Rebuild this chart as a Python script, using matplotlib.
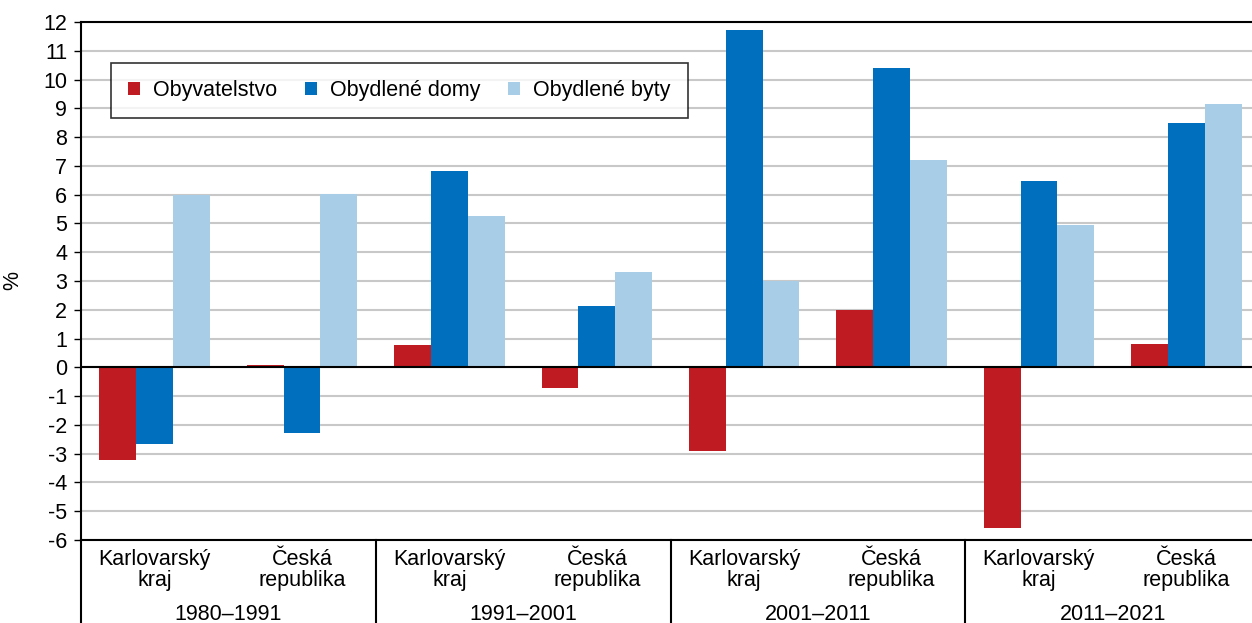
import matplotlib
matplotlib.use("Agg")
import matplotlib.pyplot as plt
import matplotlib.transforms as mtransforms
from matplotlib.patches import Patch
import numpy as np

plt.rcParams['font.family'] = ['Liberation Sans', 'DejaVu Sans']

periods = ["1980–1991", "1991–2001", "2001–2011", "2011–2021"]
regions = ["Karlovarský\nkraj", "Česká\nrepublika"]
series_names = ["Obyvatelstvo", "Obydlené domy", "Obydlené byty"]
obyvatelstvo = [-3.23, 0.09, 0.78, -0.71, -2.89, 2.0, -5.59, 0.82]
domy = [-2.66, -2.28, 6.82, 2.12, 11.72, 10.39, 6.46, 8.48]
byty = [5.99, 6.03, 5.25, 3.30, 2.99, 7.22, 4.94, 9.15]
colors = ["#BE1B22", "#0070BE", "#A8CEE7"]
yticks = list(range(-6, 13))

FS = 15.5
W, H = 1252, 623
fig = plt.figure(figsize=(W / 100, H / 100), dpi=100)
left, right, top, bottom = 81, 1260, 22, 540
ax = fig.add_axes([left / W, 1 - bottom / H, (right - left) / W, (bottom - top) / H])

n = len(obyvatelstvo)
x = np.arange(n)
bw = 0.25
for i, (vals, c) in enumerate(zip([obyvatelstvo, domy, byty], colors)):
    ax.bar(x + (i - 1) * bw, vals, width=bw, color=c, edgecolor='none', zorder=3)

ax.set_xlim(-0.5, n - 0.5)
ax.set_ylim(-6, 12)
ax.set_yticks(yticks)
ax.set_yticklabels([str(t) for t in yticks], fontsize=FS)
ax.yaxis.grid(True, color='#C8C8C8', linewidth=1.5, zorder=0)
ax.set_axisbelow(True)
ax.axhline(0, color='black', linewidth=1.5, zorder=4)
ax.set_xticks([])
ax.tick_params(axis='y', length=5, width=1, direction='out', pad=5)
for s in ['left', 'top', 'bottom']:
    ax.spines[s].set_linewidth(1.5)
    ax.spines[s].set_color('black')
ax.spines['right'].set_visible(False)
ax.set_ylabel('%', fontsize=FS, labelpad=14)

# two-level x labels
trans = mtransforms.blended_transform_factory(ax.transData, fig.transFigure)
ybot = 1 - bottom / H
for i in range(n):
    ax.text(x[i], 1 - 570 / H, regions[i % 2], transform=trans, ha='center', va='center',
            fontsize=FS, linespacing=1.05)
for j, p in enumerate(periods):
    ax.text(2 * j + 0.5, 1 - 614 / H, p, transform=trans, ha='center', va='center', fontsize=FS)
for xb in [-0.5, 1.5, 3.5, 5.5]:
    ax.plot([xb, xb], [0, ybot], transform=trans, color='black', linewidth=1.5, clip_on=False)

handles = [Patch(facecolor=c, edgecolor='none') for c in colors]
leg = ax.legend(handles, series_names, loc='upper left',
                bbox_to_anchor=((111 - left) / (right - left), (bottom - 63) / (bottom - top)),
                ncol=3, fontsize=FS, frameon=True, fancybox=False, handlelength=0.55, handleheight=0.55,
                handletextpad=0.6, columnspacing=1.3, borderpad=0.8, borderaxespad=0)
leg.get_frame().set_edgecolor('black')
leg.get_frame().set_linewidth(1.2)

fig.savefig('out.png', dpi=100)
